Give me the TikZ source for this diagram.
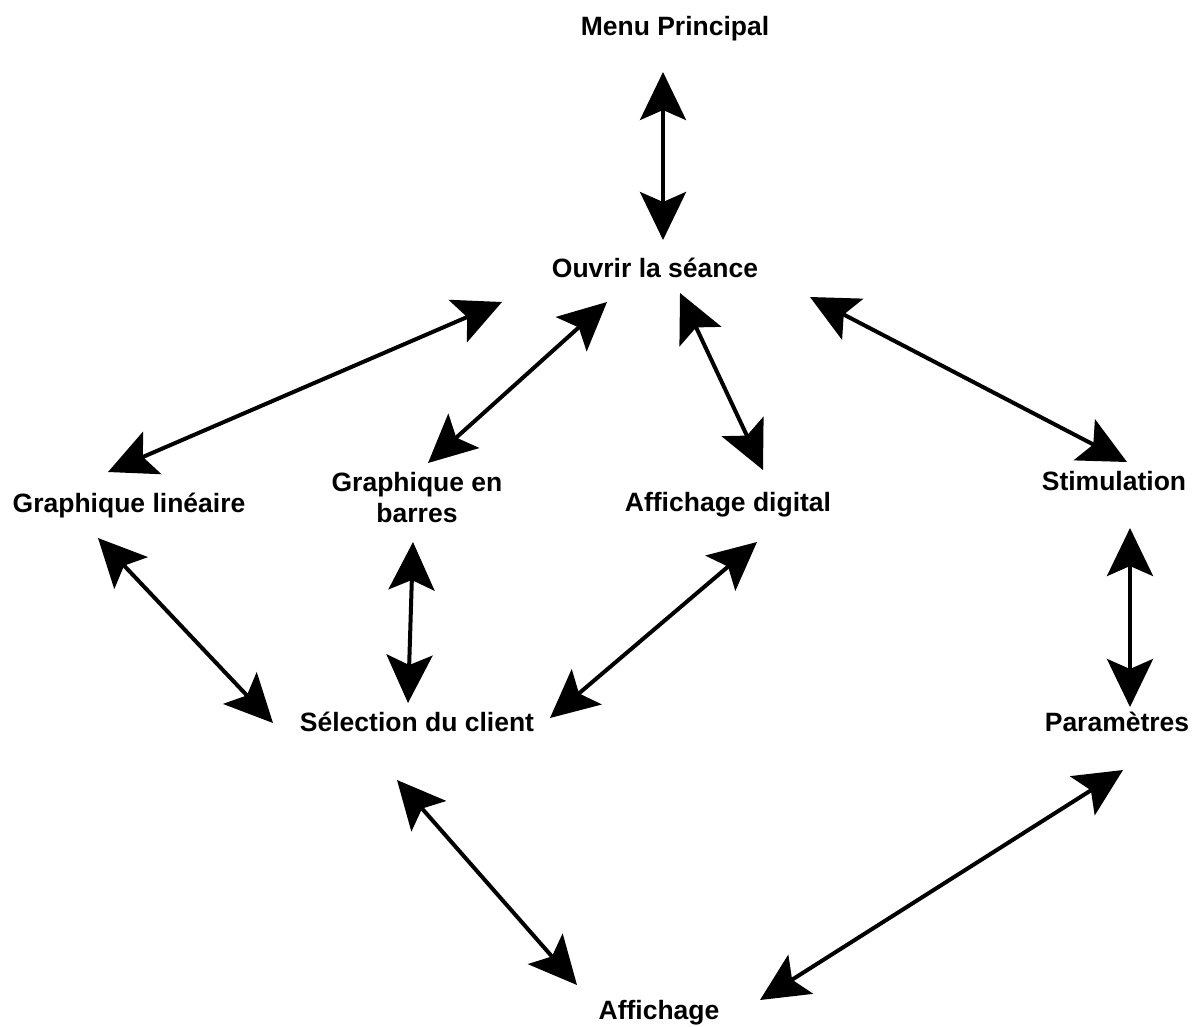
\documentclass[tikz,border=0pt]{standalone}
\usepackage{fontspec}
\setmainfont{Liberation Sans}
\usetikzlibrary{arrows.meta}
\tikzset{
  lbl/.style={inner sep=0pt, anchor=base, font=\fontsize{26.5}{30.5}\selectfont\bfseries},
  tipx/.tip={Stealth[length=48pt,width=46pt,inset=10pt]},
  dbl/.style={line width=4pt, tipx-tipx}
}
\begin{document}
\begin{tikzpicture}[x=1pt,y=-1pt]
\useasboundingbox[fill=white] (0,0) rectangle (1201,1026);
% labels
\node[lbl] (menu) at (675,35) {Menu Principal};
\node[lbl] (ouv) at (655,277) {Ouvrir la séance};
\node[lbl] (gl) at (129,512) {Graphique linéaire};
\node[lbl, align=center] (gb) at (417,522) {Graphique en\\barres};
\node[lbl] (ad) at (728,511) {Affichage digital};
\node[lbl] (stim) at (1114,490) {Stimulation};
\node[lbl] (sel) at (417,731) {Sélection du client};
\node[lbl] (par) at (1117,731) {Paramètres};
\node[lbl] (aff) at (659,1019) {Affichage};
% connector end points
\coordinate (menu-s) at (663,72);   \coordinate (ouv-n) at (663,240);
\coordinate (ouv-gl) at (502,302);  \coordinate (gl-ouv) at (108,472);
\coordinate (ouv-gb) at (607,302);  \coordinate (gb-ouv) at (428,463);
\coordinate (ouv-ad) at (680,293);  \coordinate (ad-ouv) at (763,470);
\coordinate (ouv-st) at (810,297);  \coordinate (st-ouv) at (1127,462);
\coordinate (gl-sel) at (98,538);   \coordinate (sel-gl) at (273,723);
\coordinate (gb-sel) at (413,542);  \coordinate (sel-gb) at (408,703);
\coordinate (ad-sel) at (757,542);  \coordinate (sel-ad) at (550,718);
\coordinate (st-par) at (1130,528); \coordinate (par-st) at (1130,707);
\coordinate (sel-aff) at (397,780); \coordinate (aff-sel) at (577,985);
\coordinate (par-aff) at (1123,770);\coordinate (aff-par) at (760,1000);
% connectors
\draw[dbl] (menu-s) -- (ouv-n);
\draw[dbl] (ouv-gl) -- (gl-ouv);
\draw[dbl] (ouv-gb) -- (gb-ouv);
\draw[dbl] (ouv-ad) -- (ad-ouv);
\draw[dbl] (ouv-st) -- (st-ouv);
\draw[dbl] (gl-sel) -- (sel-gl);
\draw[dbl] (gb-sel) -- (sel-gb);
\draw[dbl] (ad-sel) -- (sel-ad);
\draw[dbl] (st-par) -- (par-st);
\draw[dbl] (sel-aff) -- (aff-sel);
\draw[dbl] (par-aff) -- (aff-par);
\end{tikzpicture}
\end{document}
